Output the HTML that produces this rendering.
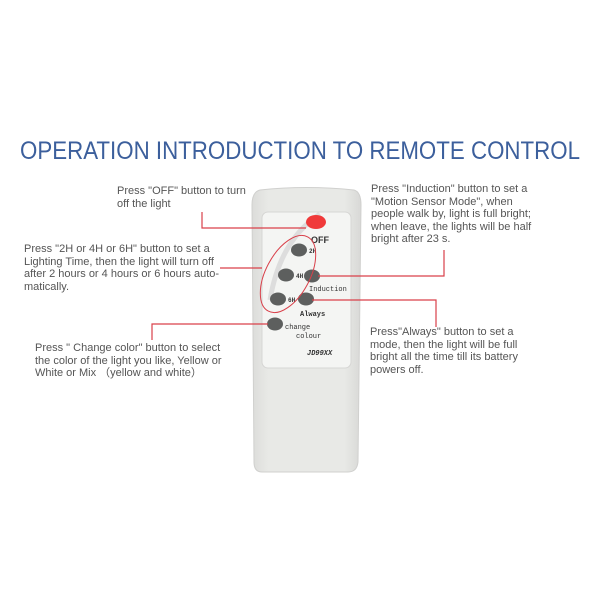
<!DOCTYPE html>
<html><head><meta charset="utf-8"><style>
body{margin:0;width:600px;height:600px;background:#fff;position:relative;overflow:hidden;font-family:"Liberation Sans",sans-serif}
.t{position:absolute;font-size:11px;line-height:12.6px;color:#555;white-space:nowrap}
</style></head><body>
<svg width="600" height="600" style="position:absolute;left:0;top:0">
<defs><linearGradient id="g" x1="0" x2="1"><stop offset="0" stop-color="#dcdcda"/><stop offset="0.15" stop-color="#e8e9e6"/><stop offset="0.85" stop-color="#e8e9e6"/><stop offset="1" stop-color="#d8d8d6"/></linearGradient></defs>
<text x="20" y="159" font-family="Liberation Sans" font-size="25" fill="#3c5f9c" textLength="560" lengthAdjust="spacingAndGlyphs">OPERATION INTRODUCTION TO REMOTE CONTROL</text>
<path d="M260 190 Q306 185 354 190 Q361 192 361 205 L358 462 Q357 472 348 472 L262 472 Q254 472 254 462 L252 205 Q252 192 260 190Z" fill="url(#g)" stroke="#d0d0ce"/>
<rect x="262" y="212" width="89" height="156" rx="6" fill="#f4f5f3" stroke="#d6d6d4"/>
<path d="M270 300 Q280 240 320 214" stroke="#ddd" stroke-width="5" fill="none"/>
<ellipse cx="316" cy="222" rx="10" ry="7" fill="#f03a3a"/>
<g fill="#5d5f5e">
<ellipse cx="299" cy="250" rx="8" ry="6.5"/>
<ellipse cx="286" cy="275" rx="8" ry="6.5"/>
<ellipse cx="312" cy="276" rx="8" ry="6.5"/>
<ellipse cx="278" cy="299" rx="8" ry="6.5"/>
<ellipse cx="306" cy="299" rx="8" ry="6.5"/>
<ellipse cx="275" cy="324" rx="8" ry="6.5"/>
</g>
<g font-family="Liberation Mono,monospace" font-weight="bold" fill="#333">
<text x="311" y="243" font-size="9" font-family="Liberation Sans">OFF</text>
<text x="309" y="253" font-size="6">2H</text>
<text x="296" y="278" font-size="6">4H</text>
<text x="288" y="302" font-size="6">6H</text>
<text x="309" y="291" font-size="7" font-weight="normal">Induction</text>
<text x="300" y="316" font-size="7">Always</text>
<text x="285" y="329" font-size="7" font-weight="normal">change</text>
<text x="296" y="338" font-size="7" font-weight="normal">colour</text>
<text x="307" y="355" font-size="7" font-style="italic">JD99XX</text>
</g>
<ellipse cx="288" cy="274" rx="22" ry="42" transform="rotate(28 288 274)" fill="none" stroke="#d9404a" stroke-width="1"/>
<g stroke="#d9404a" stroke-width="1.2" fill="none">
<path d="M202 212 V228 H306"/>
<path d="M220 268 H262"/>
<path d="M152 340 V324 H268"/>
<path d="M444 250 V276 H318"/>
<path d="M436 327 V300 H312"/>
</g>
</svg>
<div class="t" style="left:117px;top:185px">Press "OFF" button to turn<br>off the light</div>
<div class="t" style="left:24px;top:243px">Press "2H or 4H or 6H" button to set a<br>Lighting Time, then the light will turn off<br>after 2 hours or 4 hours or 6 hours auto-<br>matically.</div>
<div class="t" style="left:35px;top:342px">Press " Change color" button to select<br>the color of the light you like, Yellow or<br>White or Mix （yellow and white）</div>
<div class="t" style="left:371px;top:183px">Press "Induction" button to set a<br>"Motion Sensor Mode", when<br>people walk by, light is full bright;<br>when leave, the lights will be half<br>bright after 23 s.</div>
<div class="t" style="left:370px;top:326px">Press"Always" button to set a<br>mode, then the light will be full<br>bright all the time till its battery<br>powers off.</div>
</body></html>
